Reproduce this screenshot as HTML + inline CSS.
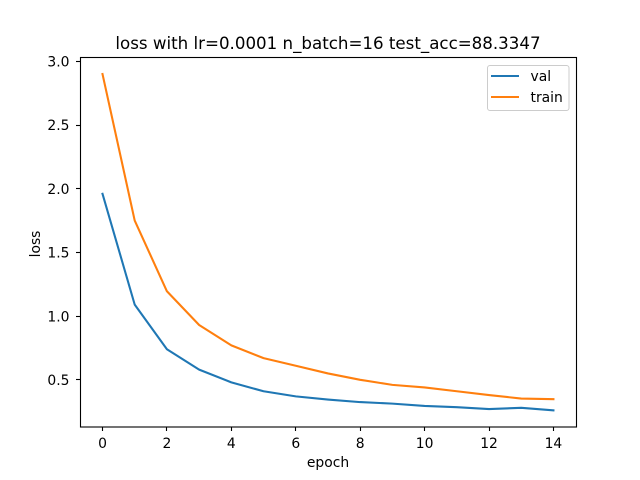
<!DOCTYPE html>
<html>
<head>
<meta charset="utf-8">
<style>
html,body{margin:0;padding:0;background:#fff;width:640px;height:480px;overflow:hidden}
svg{display:block}
text{font-family:"DejaVu Sans",sans-serif;fill:#000}
</style>
</head>
<body>
<svg id="chart" width="640" height="480" viewBox="0 0 640 480" xmlns="http://www.w3.org/2000/svg">
<rect x="0" y="0" width="640" height="480" fill="#fff"/>
<g id="ticks"></g>
<g id="series"></g>
<rect x="80.5" y="57.5" width="496" height="369.5" fill="none" stroke="#000" stroke-width="1.1"/>
<text x="328" y="49" font-size="16.67" text-anchor="middle">loss with lr=0.0001 n_batch=16 test_acc=88.3347</text>
<text x="328" y="467" font-size="13.89" text-anchor="middle">epoch</text>
<text transform="translate(40 244) rotate(-90)" font-size="13.89" text-anchor="middle">loss</text>
<g>
<rect x="487.5" y="65.5" width="81.5" height="45" rx="2.5" fill="#fff" fill-opacity="0.8" stroke="#ccc" stroke-width="1"/>
<line x1="491" x2="519" y1="76" y2="76" stroke="#1f77b4" stroke-width="2.08"/>
<text x="530.5" y="81" font-size="13.89">val</text>
<line x1="491" x2="519" y1="97" y2="97" stroke="#ff7f0e" stroke-width="2.08"/>
<text x="530.5" y="102" font-size="13.89">train</text>
</g>
</svg>
<script>
const epochs = [0,1,2,3,4,5,6,7,8,9,10,11,12,13,14];
const valLoss = [1.96,1.09,0.74,0.58,0.48,0.41,0.37,0.345,0.325,0.313,0.295,0.285,0.27,0.28,0.26];
const trainLoss = [2.9,1.75,1.195,0.93,0.77,0.67,0.61,0.55,0.5,0.46,0.44,0.41,0.38,0.353,0.348];
const xTickLabels = [0,2,4,6,8,10,12,14];
const yTickLabels = ["0.5","1.0","1.5","2.0","2.5","3.0"];

const NS = 'http://www.w3.org/2000/svg';
function xScale(v){ return 102.5 + v * 32.21; }
function yScale(v){ return 379.8 - (v - 0.5) * 127.4; }
function make(tag, attrs, parent){
  const el = document.createElementNS(NS, tag);
  for (const k in attrs) el.setAttribute(k, attrs[k]);
  parent.appendChild(el);
  return el;
}
const ticks = document.getElementById('ticks');
const series = document.getElementById('series');

xTickLabels.forEach(function(t){
  const x = Math.floor(xScale(t)) + 0.5;
  const tick = make('line', {x1:x, x2:x, y1:427, y2:431, stroke:'#000', 'stroke-width':1.1}, ticks);
  
  
  const label = make('text', {x:xScale(t), y:448, 'font-size':13.89, 'text-anchor':'middle'}, ticks);
  
  
  label.textContent = String(t);
});
yTickLabels.forEach(function(t){
  const y = Math.floor(yScale(parseFloat(t))) + 0.5;
  const tick = make('line', {x1:76, x2:80, y1:y, y2:y, stroke:'#000', 'stroke-width':1.1}, ticks);
  
  
  const label = make('text', {x:69.5, y:yScale(parseFloat(t)) + 5.2, 'font-size':13.89, 'text-anchor':'end'}, ticks);
  
  
  label.textContent = t;
});
function pointsFor(values){
  return values.map(function(v, i){ return xScale(epochs[i]).toFixed(2) + ',' + yScale(v).toFixed(2); }).join(' ');
}
const valLine = make('polyline', {points:pointsFor(valLoss), fill:'none', stroke:'#1f77b4', 'stroke-width':2.08, 'stroke-linejoin':'round', 'stroke-linecap':'square'}, series);


const trainLine = make('polyline', {points:pointsFor(trainLoss), fill:'none', stroke:'#ff7f0e', 'stroke-width':2.08, 'stroke-linejoin':'round', 'stroke-linecap':'square'}, series);


</script>
</body>
</html>
